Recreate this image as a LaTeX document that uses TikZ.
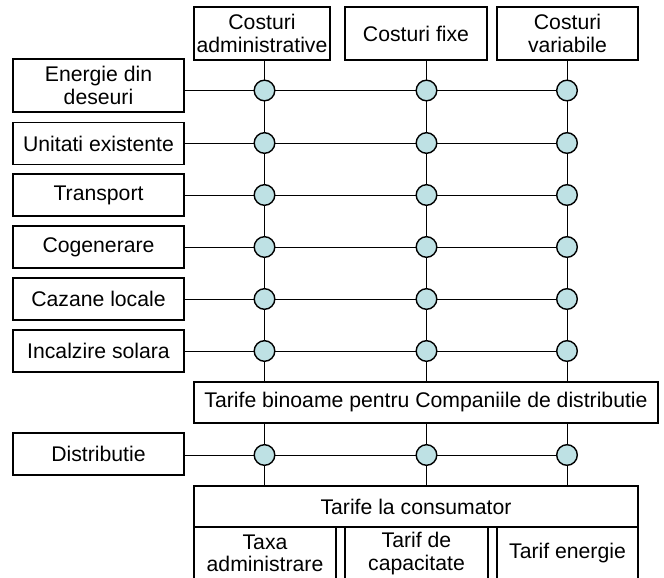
\documentclass[tikz,border=0pt]{standalone}
\usepackage{fontspec}
\setmainfont{Liberation Sans}
\usetikzlibrary{backgrounds}
\definecolor{junction}{RGB}{190,225,228}
\begin{document}
\begin{tikzpicture}[x=1pt, y=-1pt, line width=1.4pt,
  every node/.style={font=\fontsize{21.2}{22.5}\selectfont},
  box/.style={draw, fill=white, inner sep=0pt, align=center},
  src/.style={box, minimum width=171pt, minimum height=42pt},
  head/.style={box, minimum height=53pt},
  dot/.style={circle, draw, fill=junction, minimum size=20.6pt, inner sep=0pt}]
\useasboundingbox (0,0) rectangle (664,578);
\clip (0,0) rectangle (664,578);

% cost categories (columns)
\node[head, minimum width=136pt] (t1) at (262,33.5) {Costuri\\administrative};
\node[head, minimum width=142pt] (t2) at (416,33.5) {Costuri fixe};
\node[head, minimum width=141pt] (t3) at (567.5,33.5) {Costuri\\variabile};

% production sources (rows)
\node[src, minimum height=53pt] (s1) at (98.5,85.5) {Energie din\\deseuri};
\node[src] (s2) at (98.5,143.5) {Unitati existente};
\node[src] (s3) at (98.5,195) {Transport};
\node[src] (s4) at (98.5,247) {Cogenerare};
\node[src] (s5) at (98.5,299) {Cazane locale};
\node[src] (s6) at (98.5,351) {Incalzire solara};
\node[src] (s7) at (98.5,454) {Distributie};

% tariff stages
\node[box, minimum width=464pt, minimum height=41pt] (bin) at (426,402.5)
  {Tarife binoame pentru Companiile de distributie};
\node[box, minimum width=444pt, minimum height=41pt] (cons) at (416,506.5)
  {Tarife la consumator};
\node[head, minimum width=142pt] (b1) at (265,553.5) {Taxa\\administrare};
\node[head, minimum width=143pt] (b2) at (416.5,553.5) {Tarif de\\capacitate};
\node[head, minimum width=141pt] (b3) at (567.5,553.5) {Tarif energie};

% junctions
\foreach \r/\y in {1/90.5,2/143,3/195,4/247,5/299,6/351,7/455}
  \foreach \c/\x in {1/264.5,2/426.5,3/567}
    \node[dot] (c\r\c) at (\x,\y) {};

\begin{scope}[on background layer]
  \foreach \r in {1,...,7}
    \draw (s\r.east |- c\r1) -- (c\r3);
  \foreach \c in {1,2,3} {
    \draw (c1\c |- t1.south) -- (c6\c |- bin.north);
    \draw (c7\c |- bin.south) -- (c7\c |- cons.north);
  }
\end{scope}
\end{tikzpicture}
\end{document}
